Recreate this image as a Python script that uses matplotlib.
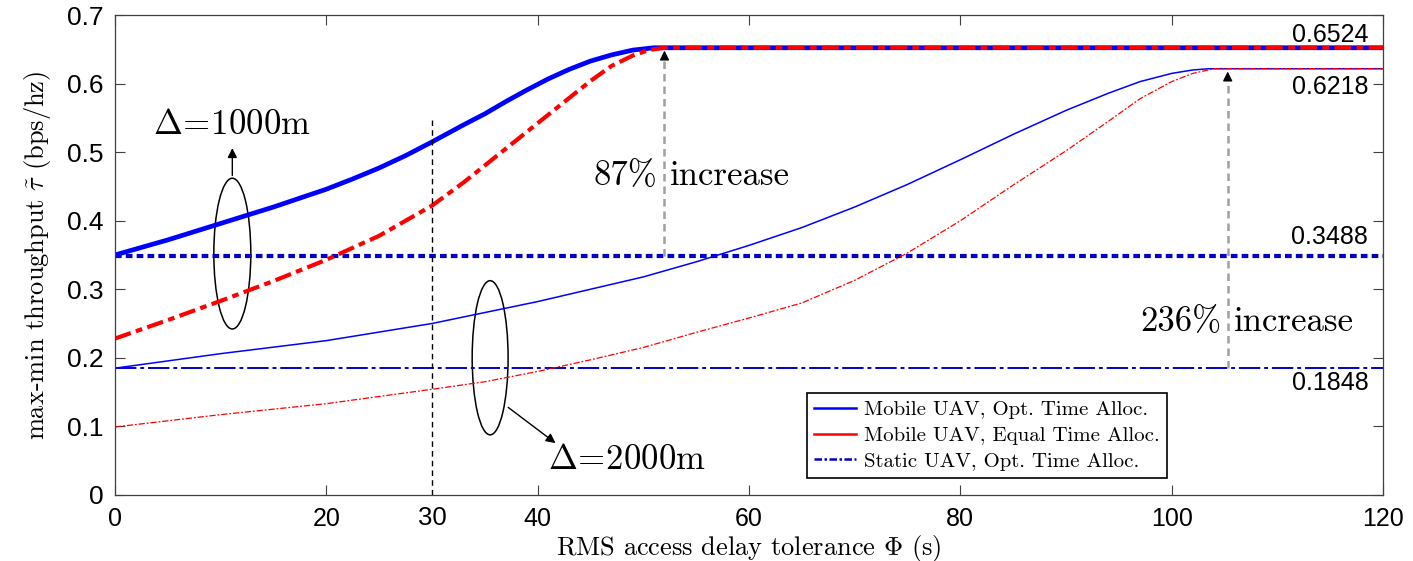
import numpy as np
import matplotlib
matplotlib.use("Agg")
import matplotlib.pyplot as plt
from matplotlib.patches import Ellipse
from matplotlib.lines import Line2D

plt.rcParams['mathtext.fontset'] = 'cm'
plt.rcParams['axes.formatter.use_mathtext'] = True

# delta = 1000 m, mobile UAV, optimal time allocation
x_opt_1k = [0, 5, 10, 15, 20, 22.5, 25, 27.5, 30, 33, 35, 37, 39, 41, 43, 45, 47, 49, 51, 60, 80, 100, 120]
y_opt_1k = [0.35, 0.372, 0.396, 0.42, 0.446, 0.461, 0.477, 0.495, 0.515, 0.54, 0.556, 0.574, 0.591,
            0.607, 0.621, 0.633, 0.642, 0.649, 0.6524, 0.6524, 0.6524, 0.6524, 0.6524]

# delta = 1000 m, mobile UAV, equal time allocation
x_eq_1k = [0, 5, 10, 15, 20, 25, 30, 33, 36, 39, 42, 45, 47, 49, 50.5, 52, 60, 80, 100, 120]
y_eq_1k = [0.228, 0.255, 0.283, 0.312, 0.343, 0.378, 0.422, 0.456, 0.493, 0.53, 0.567, 0.604, 0.626,
           0.641, 0.649, 0.6524, 0.6524, 0.6524, 0.6524, 0.6524]

# delta = 2000 m, mobile UAV, optimal time allocation
x_opt_2k = [0, 10, 20, 30, 40, 50, 55, 60, 65, 70, 75, 80, 85, 90, 94, 97, 100, 102, 103.5, 120]
y_opt_2k = [0.1848, 0.206, 0.225, 0.25, 0.282, 0.318, 0.34, 0.364, 0.39, 0.42, 0.453, 0.489, 0.526,
            0.561, 0.586, 0.603, 0.615, 0.620, 0.6218, 0.6218]

# delta = 2000 m, mobile UAV, equal time allocation
x_eq_2k = [0, 10, 20, 30, 35, 40, 45, 50, 55, 60, 65, 70, 75, 80, 85, 90, 94, 97, 100, 102, 104, 120]
y_eq_2k = [0.099, 0.117, 0.133, 0.154, 0.165, 0.18, 0.197, 0.215, 0.237, 0.258, 0.28, 0.313, 0.353,
           0.4, 0.452, 0.502, 0.545, 0.578, 0.603, 0.615, 0.6218, 0.6218]

# static UAV levels
static_1k = 0.3488
static_2k = 0.1848
sat_1k = 0.6524
sat_2k = 0.6218

xticks = [0, 20, 40, 60, 80, 100, 120]
yticks = [0, 0.1, 0.2, 0.3, 0.4, 0.5, 0.6, 0.7]
legend_labels = ["Mobile UAV, Opt. Time Alloc.", "Mobile UAV, Equal Time Alloc.", "Static UAV, Opt. Time Alloc."]

BLUE = '#0000ff'
DBLUE = '#0000c8'
RED = '#ff0000'
serif = 'cmr10'
sans = 'Liberation Sans'

fig = plt.figure(figsize=(14.13, 5.61), dpi=100)
ax = fig.add_axes([0.0814, 0.118, 0.8974, 0.855])

# thick curves (1000 m)
ax.plot([0, 120], [static_1k, static_1k], color=DBLUE, lw=3, dashes=(1.6, 1.0))
ax.plot(x_opt_1k, y_opt_1k, color=BLUE, lw=3.4)
ax.plot(x_eq_1k, y_eq_1k, color=RED, lw=3, dashes=(4, 1.3, 1.6, 1.3))

# thin curves (2000 m)
ax.plot([0, 120], [static_2k, static_2k], color=DBLUE, lw=1.4, dashes=(11, 2, 2, 2))
ax.plot(x_opt_2k, y_opt_2k, color=BLUE, lw=1.1)
ax.plot(x_eq_2k, y_eq_2k, color=RED, lw=0.9, dashes=(5, 1.5, 1.5, 1.5))

# vertical marker at 30 s
ax.plot([30, 30], [0, 0.55], color='black', lw=1, dashes=(4, 3))

# increase arrows
ax.plot([52, 52], [static_1k, sat_1k - 0.012], color='#a0a0a0', lw=1.8, dashes=(3, 2))
ax.annotate('', xy=(52, sat_1k), xytext=(52, sat_1k - 0.015),
            arrowprops=dict(arrowstyle='-|>', color='black', lw=1, mutation_scale=14))
ax.plot([105.3, 105.3], [static_2k, sat_2k - 0.012], color='#a0a0a0', lw=1.8, dashes=(3, 2))
ax.annotate('', xy=(105.3, sat_2k), xytext=(105.3, sat_2k - 0.015),
            arrowprops=dict(arrowstyle='-|>', color='black', lw=1, mutation_scale=14))

ax.text(51.3, 0.465, '87%', family=serif, fontsize=25, ha='right', va='center')
ax.text(52.5, 0.465, 'increase', family=serif, fontsize=25, ha='left', va='center')
ax.text(104.7, 0.252, '236%', family=serif, fontsize=25, ha='right', va='center')
ax.text(105.9, 0.252, 'increase', family=serif, fontsize=25, ha='left', va='center')

# ellipses with labels
ax.add_patch(Ellipse((11.1, 0.352), 3.5, 0.22, fill=False, edgecolor='black', lw=1.1))
ax.annotate('', xy=(11.1, 0.51), xytext=(11.1, 0.462),
            arrowprops=dict(arrowstyle='-|>', color='black', lw=1, mutation_scale=14))
ax.text(3.6, 0.54, r'$\Delta\!=\!1000$m', family=serif, fontsize=25, ha='left', va='center')

ax.add_patch(Ellipse((35.5, 0.20), 3.4, 0.225, fill=False, edgecolor='black', lw=1.1))
ax.annotate('', xy=(41.9, 0.073), xytext=(37.0, 0.13),
            arrowprops=dict(arrowstyle='-|>', color='black', lw=1, mutation_scale=14))
ax.text(41.0, 0.051, r'$\Delta\!=\!2000$m', family=serif, fontsize=25, ha='left', va='center')

# value labels on the right
for val, ypos in [(sat_1k, 0.671), (sat_2k, 0.595), (static_1k, 0.376), (static_2k, 0.163)]:
    ax.text(118.6, ypos, '%.4f' % val, family=sans, fontsize=18, ha='right', va='center')

ax.text(30, -0.017, '30', family=sans, fontsize=18.5, ha='center', va='top', clip_on=False)

ax.set_xlim(0, 120)
ax.set_ylim(0, 0.7)
ax.set_xticks(xticks)
ax.set_yticks(yticks)
ax.set_xticklabels([str(v) for v in xticks], family=sans, fontsize=18)
ax.set_yticklabels(['0' if v == 0 else '%.1f' % v for v in yticks], family=sans, fontsize=19)
ax.tick_params(direction='in', top=True, right=True, length=7, width=0.8, color='#404040')
ax.tick_params(axis='x', pad=9)
ax.tick_params(axis='y', pad=8)
for sp in ax.spines.values():
    sp.set_color('#404040')
    sp.set_linewidth(0.9)

ax.set_xlabel(r'RMS access delay tolerance $\Phi$ (s)', family=serif, fontsize=19, labelpad=1)
ax.set_ylabel(r'max-min throughput $\tilde{\tau}$ (bps/hz)', family=serif, fontsize=19, labelpad=10)

handles = [Line2D([], [], color=BLUE, lw=1.8),
           Line2D([], [], color=RED, lw=1.8),
           Line2D([], [], color=DBLUE, lw=1.8, dashes=(3, 1, 1, 1))]
leg = ax.legend(handles, legend_labels, loc='lower right', bbox_to_anchor=(0.8297, 0.035),
                prop={'family': serif, 'size': 15}, fancybox=False, framealpha=1,
                edgecolor='black', handlelength=2.0, handletextpad=0.4, borderpad=0.35,
                labelspacing=0.35, borderaxespad=0)
leg.get_frame().set_linewidth(1.2)

fig.savefig('out.png', dpi=100)
